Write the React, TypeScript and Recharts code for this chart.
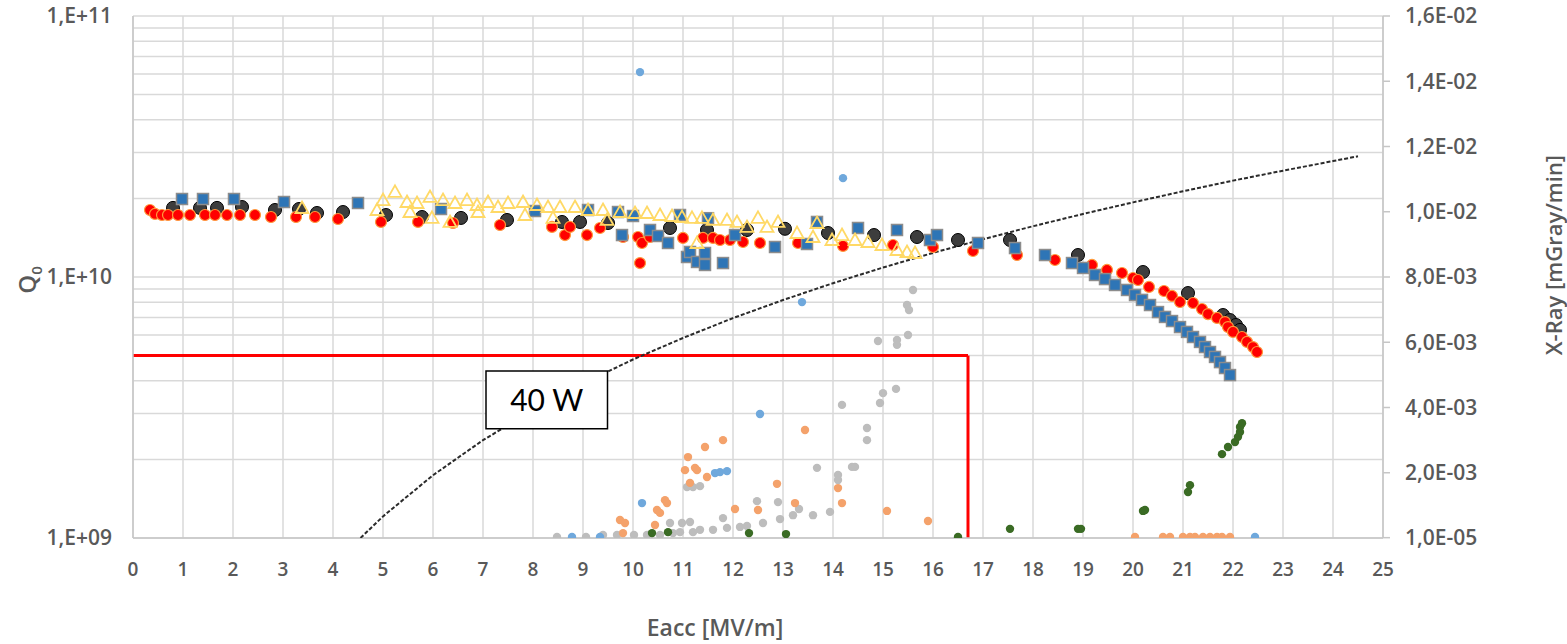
import React from 'react';
import {
  ComposedChart,
  Scatter,
  XAxis,
  YAxis,
  CartesianGrid,
  ReferenceLine,
  ReferenceArea,
} from 'recharts';

type P = [number, number];

// ---------- axis ticks ----------
const eaccTicks: number[] = [0, 1, 2, 3, 4, 5, 6, 7, 8, 9, 10, 11, 12, 13, 14, 15, 16, 17, 18, 19, 20, 21, 22, 23, 24, 25];
const q0Ticks: number[] = [
  1e9, 2e9, 3e9, 4e9, 5e9, 6e9, 7e9, 8e9, 9e9,
  1e10, 2e10, 3e10, 4e10, 5e10, 6e10, 7e10, 8e10, 9e10, 1e11,
];
const xrayTicks: number[] = [0.00001, 0.002, 0.004, 0.006, 0.008, 0.01, 0.012, 0.014, 0.016];

// ---------- Q0 series (left axis) ----------
const q0Black: P[] = [
  [0.8, 1.84e10], [1.34, 1.84e10], [1.68, 1.84e10], [2.18, 1.854e10], [2.84, 1.806e10], [3.32, 1.822e10],
  [3.68, 1.759e10], [4.2, 1.774e10], [5.06, 1.728e10], [5.78, 1.698e10], [6.56, 1.684e10], [7.48, 1.654e10],
  [8.58, 1.625e10], [8.94, 1.625e10], [9.5, 1.61e10], [10.74, 1.541e10], [11.48, 1.514e10], [12.28, 1.514e10],
  [13.04, 1.53e10], [13.9, 1.474e10], [14.82, 1.448e10], [15.68, 1.423e10], [16.5, 1.386e10], [17.54, 1.386e10],
  [18.9, 1.214e10], [20.2, 1.045e10], [21.1, 8.68e9], [21.8, 7.15e9], [21.94, 6.84e9], [22.06, 6.55e9], [22.14, 6.27e9],
];

const q0Red: P[] = [
  [0.34, 1.806e10], [0.44, 1.744e10], [0.58, 1.728e10], [0.7, 1.728e10], [0.9, 1.728e10], [1.14, 1.728e10],
  [1.44, 1.728e10], [1.64, 1.728e10], [1.88, 1.728e10], [2.14, 1.728e10], [2.44, 1.728e10], [2.76, 1.698e10],
  [3.26, 1.698e10], [3.64, 1.698e10], [4.1, 1.668e10], [4.96, 1.625e10], [5.7, 1.625e10], [6.4, 1.61e10],
  [7.34, 1.582e10], [8.38, 1.555e10], [8.64, 1.448e10], [8.74, 1.555e10], [9.08, 1.448e10], [9.34, 1.541e10],
  [9.8, 1.423e10], [10.1, 1.423e10], [10.18, 1.35e10], [10.14, 1.131e10], [10.34, 1.423e10], [11.0, 1.411e10],
  [11.4, 1.411e10], [11.6, 1.411e10], [11.74, 1.386e10], [11.94, 1.386e10], [12.2, 1.362e10], [12.54, 1.35e10],
  [13.3, 1.35e10], [14.2, 1.315e10], [15.2, 1.326e10], [16.0, 1.303e10], [16.8, 1.258e10], [17.68, 1.214e10],
  [18.44, 1.162e10], [19.18, 1.112e10], [19.48, 1.064e10], [19.78, 1.036e10], [20.0, 9.91e9], [20.1, 9.74e9],
  [20.32, 9.16e9], [20.62, 8.84e9], [20.78, 8.46e9], [20.94, 8.02e9], [21.2, 7.95e9], [21.38, 7.54e9],
  [21.5, 7.21e9], [21.68, 6.97e9], [21.84, 6.72e9], [21.9, 6.43e9], [22.0, 6.16e9], [22.18, 5.89e9],
  [22.28, 5.64e9], [22.4, 5.39e9], [22.48, 5.16e9],
];

const q0Blue: P[] = [
  [0.98, 1.99e10], [1.4, 1.99e10], [2.02, 1.99e10], [3.02, 1.938e10], [4.5, 1.921e10], [6.16, 1.822e10],
  [8.04, 1.79e10], [9.1, 1.806e10], [9.7, 1.774e10], [9.78, 1.448e10], [10.0, 1.713e10], [10.34, 1.514e10],
  [10.5, 1.436e10], [10.7, 1.35e10], [10.94, 1.728e10], [11.08, 1.193e10], [11.14, 1.247e10], [11.28, 1.142e10],
  [11.44, 1.236e10], [11.44, 1.112e10], [11.5, 1.68e10], [11.8, 1.131e10], [12.04, 1.448e10], [12.84, 1.303e10],
  [13.48, 1.338e10], [13.68, 1.625e10], [14.5, 1.541e10], [15.28, 1.514e10], [15.94, 1.386e10], [16.08, 1.448e10],
  [16.9, 1.35e10], [17.64, 1.291e10], [18.24, 1.214e10], [18.78, 1.131e10], [19.0, 1.083e10], [19.24, 1.018e10],
  [19.44, 9.82e9], [19.64, 9.32e9], [19.88, 8.92e9], [20.04, 8.53e9], [20.18, 8.17e9], [20.34, 7.81e9],
  [20.5, 7.34e9], [20.64, 7.03e9], [20.78, 6.78e9], [20.94, 6.43e9], [21.08, 6.16e9], [21.2, 5.89e9],
  [21.34, 5.64e9], [21.44, 5.39e9], [21.54, 5.16e9], [21.64, 4.94e9], [21.74, 4.72e9], [21.84, 4.48e9],
  [21.94, 4.21e9],
];

const q0Yellow: P[] = [
  [3.38, 1.838e10], [4.88, 1.806e10], [5.0, 1.972e10], [5.24, 2.12e10], [5.48, 1.938e10], [5.54, 1.774e10],
  [5.68, 1.921e10], [5.94, 2.026e10], [5.98, 1.684e10], [6.2, 1.972e10], [6.34, 1.625e10], [6.44, 1.921e10],
  [6.68, 1.972e10], [6.88, 1.887e10], [6.9, 1.774e10], [7.1, 1.938e10], [7.3, 1.854e10], [7.5, 1.921e10],
  [7.8, 1.938e10], [7.84, 1.728e10], [8.08, 1.887e10], [8.3, 1.854e10], [8.4, 1.684e10], [8.54, 1.854e10],
  [8.84, 1.854e10], [9.1, 1.806e10], [9.4, 1.806e10], [9.48, 1.654e10], [9.74, 1.774e10], [10.04, 1.759e10],
  [10.28, 1.759e10], [10.54, 1.728e10], [10.78, 1.713e10], [10.98, 1.698e10], [11.18, 1.684e10], [11.28, 1.35e10],
  [11.38, 1.684e10], [11.6, 1.654e10], [11.88, 1.654e10], [12.08, 1.625e10], [12.28, 1.555e10], [12.5, 1.684e10],
  [12.68, 1.555e10], [12.9, 1.625e10], [13.28, 1.474e10], [13.6, 1.423e10], [13.68, 1.61e10], [13.98, 1.386e10],
  [14.18, 1.448e10], [14.44, 1.386e10], [14.7, 1.362e10], [14.98, 1.326e10], [15.28, 1.269e10], [15.48, 1.247e10],
  [15.64, 1.236e10],
];

// 40 W line (Q0 vs Eacc)
const q0At40W: P[] = [
  [4.55, 1.0e9], [5, 1.21e9], [6, 1.74e9], [7, 2.37e9], [8, 3.09e9], [9, 3.91e9], [10, 4.83e9], [11, 5.84e9],
  [12, 6.96e9], [13, 8.16e9], [14, 9.47e9], [15, 1.087e10], [16, 1.237e10], [17, 1.396e10], [18, 1.565e10],
  [19, 1.744e10], [20, 1.932e10], [21, 2.13e10], [22, 2.34e10], [23, 2.555e10], [24, 2.78e10], [24.5, 2.9e10],
];

// ---------- X-ray series (right axis) ----------
const xrayBlue: P[] = [
  [8.78, 0.00003], [9.34, 0.00003], [10.14, 0.01428], [10.18, 0.00107], [11.64, 0.00199], [11.74, 0.00202],
  [11.88, 0.00205], [12.54, 0.0038], [13.38, 0.00723], [14.2, 0.01103], [22.44, 0.00003],
];

const xrayOrange: P[] = [
  [9.74, 0.00055], [9.84, 0.00046], [9.8, 0.00015], [10.44, 0.0004], [10.48, 0.00086], [10.54, 0.00077],
  [10.64, 0.00116], [10.68, 0.00107], [11.04, 0.00208], [11.1, 0.00248], [11.14, 0.00169], [11.24, 0.00215],
  [11.28, 0.00208], [11.44, 0.00279], [11.48, 0.00187], [11.8, 0.003], [12.04, 0.00089], [12.5, 0.00086],
  [12.88, 0.00166], [13.24, 0.00107], [13.44, 0.00331], [14.1, 0.00153], [14.18, 0.00107], [15.08, 0.00083],
  [15.9, 0.00052], [20.04, 0.00003], [20.6, 0.00003], [20.74, 0.00003], [21.0, 0.00003], [21.14, 0.00003],
  [21.24, 0.00003], [21.4, 0.00003], [21.54, 0.00003], [21.68, 0.00003], [21.78, 0.00003], [21.94, 0.00003],
];

const xrayGray: P[] = [
  [8.48, 0.00003], [9.06, 0.00003], [9.4, 0.00009], [9.68, 0.00009], [10.02, 0.00009], [10.28, 0.00009],
  [10.54, 0.00009], [10.8, 0.00015], [10.94, 0.00018], [11.2, 0.00018], [11.34, 0.00025], [11.6, 0.00025],
  [11.88, 0.00031], [12.14, 0.00034], [12.28, 0.00037], [10.74, 0.00046], [10.98, 0.00046], [11.14, 0.00049],
  [11.8, 0.00061], [11.08, 0.00156], [11.2, 0.00156], [11.34, 0.00159], [12.48, 0.00113], [12.6, 0.00046],
  [12.9, 0.0011], [12.94, 0.00058], [13.2, 0.0007], [13.32, 0.00089], [13.6, 0.0007], [13.68, 0.00215],
  [13.94, 0.0008], [14.1, 0.00193], [14.1, 0.00178], [14.38, 0.00218], [14.44, 0.00218], [14.18, 0.00408],
  [14.68, 0.00337], [14.68, 0.003], [14.94, 0.00414], [15.0, 0.00444], [15.26, 0.00457], [14.9, 0.00604],
  [15.28, 0.00607], [15.28, 0.00592], [15.5, 0.00622], [15.48, 0.00714], [15.52, 0.00699], [15.6, 0.0076],
];

const xrayGreen: P[] = [
  [10.38, 0.00015], [10.7, 0.00018], [12.32, 0.00015], [13.06, 0.00012], [16.5, 0.00003], [17.54, 0.00028],
  [18.9, 0.00028], [18.96, 0.00028], [20.2, 0.00083], [20.24, 0.00086], [21.1, 0.00141], [21.14, 0.00162],
  [21.78, 0.00257], [21.9, 0.00279], [22.04, 0.00294], [22.1, 0.0031], [22.14, 0.00325], [22.14, 0.0034],
  [22.18, 0.00352],
];

// ---------- annotations ----------
const powerLimitQ0 = 5e9;
const powerLimitEacc = 16.7;
const boxEacc: P = [7.06, 9.49];
const boxQ0: P = [2.62e9, 4.36e9];
const boxLabel = '40 W';

const toPts = (a: P[]) => a.map(([x, y]) => ({ x, y }));

const fmtQ0 = (v: number) => {
  const e = Math.round(Math.log10(v));
  if (Math.abs(v - Math.pow(10, e)) > v * 1e-6) return '';
  return `1,E+${String(e).padStart(2, '0')}`;
};
const fmtXray = (v: number) => {
  const [m, e] = v.toExponential(1).split('e');
  const n = parseInt(e, 10);
  return `${m.replace('.', ',')}E${n < 0 ? '-' : '+'}${String(Math.abs(n)).padStart(2, '0')}`;
};

const BlackDot = (p: any) => <circle cx={p.cx} cy={p.cy} r={6.5} fill="#3d3d3d" stroke="#000" strokeWidth={1} />;
const RedDot = (p: any) => <circle cx={p.cx} cy={p.cy} r={5.5} fill="#ff0000" stroke="#ff9a3c" strokeWidth={1.2} />;
const BlueSquare = (p: any) => (
  <rect x={p.cx - 5.5} y={p.cy - 5.5} width={11} height={11} fill="#2e75b6" stroke="#8c8c8c" strokeWidth={1.5} />
);
const YellowTri = (p: any) => (
  <path
    d={`M${p.cx},${p.cy - 6.5} L${p.cx + 6.5},${p.cy + 5} L${p.cx - 6.5},${p.cy + 5} Z`}
    fill="none"
    stroke="#ffd966"
    strokeWidth={1.8}
  />
);
const mkDot = (color: string) => (p: any) => <circle cx={p.cx} cy={p.cy} r={4.2} fill={color} />;
const NoShape = () => <g />;

const tickStyle = { fill: '#595959', fontSize: 21, fontFamily: 'Open Sans', fontWeight: 600 };
const titleStyle: React.CSSProperties = {
  position: 'absolute',
  color: '#595959',
  fontFamily: 'Open Sans',
  fontWeight: 600,
  whiteSpace: 'nowrap',
  textAlign: 'center',
  lineHeight: '30px',
  height: 30,
  width: 300,
};

export default function App() {
  return (
    <div style={{ position: 'relative', width: 1567, height: 644, overflow: 'hidden' }}>
      <style>{'body{margin:0;}'}</style>
      <div style={{ position: 'absolute', left: 0, top: 0 }}>
        <ComposedChart width={1567} height={644} margin={{ top: 16, right: 8, bottom: 8, left: 8 }}>
          <CartesianGrid yAxisId="q" stroke="#d9d9d9" strokeWidth={1.5} />
          <XAxis
            type="number"
            dataKey="x"
            domain={[0, 25]}
            ticks={eaccTicks}
            interval={0}
            height={98}
            tickLine={false}
            tickMargin={19}
            axisLine={{ stroke: '#c6c6c6', strokeWidth: 1.5 }}
            tick={{ ...tickStyle, fontSize: 19 }}
            allowDataOverflow
          />
          <YAxis
            yAxisId="q"
            type="number"
            dataKey="y"
            scale="log"
            domain={[1e9, 1e11]}
            ticks={q0Ticks}
            interval={0}
            width={125}
            tickLine={false}
            tickMargin={15}
            axisLine={{ stroke: '#c6c6c6', strokeWidth: 1.5 }}
            tickFormatter={fmtQ0}
            tick={tickStyle}
            allowDataOverflow
          />
          <YAxis
            yAxisId="x"
            orientation="right"
            type="number"
            dataKey="y"
            domain={[0, 0.016]}
            ticks={xrayTicks}
            interval={0}
            width={176}
            tickSize={7}
            tickMargin={15}
            tickLine={{ stroke: '#c6c6c6', strokeWidth: 1.5 }}
            axisLine={{ stroke: '#c6c6c6', strokeWidth: 1.5 }}
            tickFormatter={fmtXray}
            tick={tickStyle}
            allowDataOverflow
          />

          <Scatter
            yAxisId="q"
            data={toPts(q0At40W)}
            line={{ stroke: '#2b2b2b', strokeWidth: 2, strokeDasharray: '4 2' }}
            shape={NoShape}
            isAnimationActive={false}
          />
          <Scatter yAxisId="q" data={toPts(q0Black)} shape={BlackDot} isAnimationActive={false} />
          <Scatter yAxisId="q" data={toPts(q0Red)} shape={RedDot} isAnimationActive={false} />
          <Scatter yAxisId="q" data={toPts(q0Blue)} shape={BlueSquare} isAnimationActive={false} />
          <Scatter yAxisId="q" data={toPts(q0Yellow)} shape={YellowTri} isAnimationActive={false} />

          <Scatter yAxisId="x" data={toPts(xrayGray)} shape={mkDot('#bdbdbd')} isAnimationActive={false} />
          <Scatter yAxisId="x" data={toPts(xrayOrange)} shape={mkDot('#f4a26b')} isAnimationActive={false} />
          <Scatter yAxisId="x" data={toPts(xrayBlue)} shape={mkDot('#6fa8dc')} isAnimationActive={false} />
          <Scatter yAxisId="x" data={toPts(xrayGreen)} shape={mkDot('#3a6b24')} isAnimationActive={false} />

          <ReferenceLine
            yAxisId="q"
            segment={[{ x: 0, y: powerLimitQ0 }, { x: powerLimitEacc, y: powerLimitQ0 }]}
            stroke="#ff0000"
            strokeWidth={3}
            ifOverflow="visible"
          />
          <ReferenceLine
            yAxisId="q"
            segment={[{ x: powerLimitEacc, y: powerLimitQ0 }, { x: powerLimitEacc, y: 1e9 }]}
            stroke="#ff0000"
            strokeWidth={3}
            ifOverflow="visible"
          />
          <ReferenceArea
            yAxisId="q"
            x1={boxEacc[0]}
            x2={boxEacc[1]}
            y1={boxQ0[0]}
            y2={boxQ0[1]}
            fill="#ffffff"
            fillOpacity={1}
            stroke="#000"
            strokeWidth={1.5}
            ifOverflow="visible"
            zIndex={1500}
            label={{ value: boxLabel, position: 'center', fontSize: 30, fill: '#000', fontFamily: 'Lato' }}
          />
        </ComposedChart>
      </div>

      <div style={{ ...titleStyle, left: 27 - 150, top: 280 - 15, fontSize: 24, transform: 'rotate(-90deg)' }}>
        Q<sub style={{ fontSize: 15, lineHeight: 0 }}>0</sub>
      </div>
      <div style={{ ...titleStyle, left: 1553 - 150, top: 255 - 15, fontSize: 22, transform: 'rotate(-90deg)' }}>
        X-Ray [mGray/min]
      </div>
      <div style={{ ...titleStyle, left: 715 - 150, top: 627 - 15, fontSize: 23 }}>
        Eacc [MV/m]
      </div>
    </div>
  );
}
